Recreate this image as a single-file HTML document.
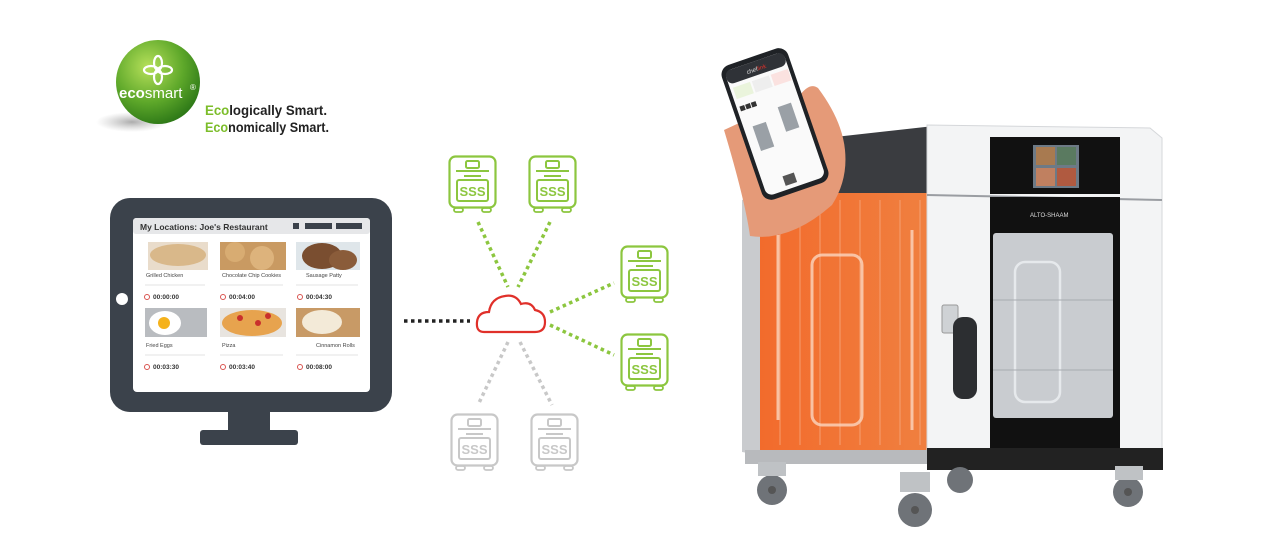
<!DOCTYPE html>
<html><head><meta charset="utf-8"><style>
html,body{margin:0;padding:0;background:#fff}
svg{display:block}
text{font-family:"Liberation Sans",sans-serif}
</style></head><body>
<svg width="1280" height="560" viewBox="0 0 1280 560" xmlns="http://www.w3.org/2000/svg">
<defs>
<radialGradient id="sph" cx="0.38" cy="0.32" r="0.7">
<stop offset="0" stop-color="#b6e05a"/><stop offset="0.6" stop-color="#5ea82a"/><stop offset="1" stop-color="#2f7a18"/>
</radialGradient>
<radialGradient id="shd" cx="0.5" cy="0.5" r="0.5">
<stop offset="0" stop-color="#888" stop-opacity="0.7"/><stop offset="1" stop-color="#aaa" stop-opacity="0"/>
</radialGradient>
<linearGradient id="org" x1="0" y1="0" x2="1" y2="0">
<stop offset="0" stop-color="#f26b2c"/><stop offset="1" stop-color="#f08040"/>
</linearGradient>
<g id="ov">
<rect x="1.5" y="1.5" width="46" height="51" rx="6" fill="#fff" stroke="currentColor" stroke-width="2.2"/>
<rect x="18" y="6" width="13" height="7" rx="1.5" fill="none" stroke="currentColor" stroke-width="2"/>
<line x1="8" y1="16" x2="41" y2="16" stroke="currentColor" stroke-width="2"/>
<line x1="16" y1="21" x2="33" y2="21" stroke="currentColor" stroke-width="2"/>
<rect x="9" y="25" width="31" height="21" rx="2" fill="none" stroke="currentColor" stroke-width="2"/>
<text x="24.5" y="41" text-anchor="middle" font-size="13" font-weight="bold" fill="currentColor">SSS</text>
<rect x="6" y="53" width="9" height="4" rx="2" fill="none" stroke="currentColor" stroke-width="1.8"/>
<rect x="34" y="53" width="9" height="4" rx="2" fill="none" stroke="currentColor" stroke-width="1.8"/>
</g>
</defs>

<!-- logo -->
<ellipse cx="132" cy="122" rx="36" ry="10" fill="url(#shd)"/>
<circle cx="158" cy="82" r="42" fill="url(#sph)"/>
<g fill="none" stroke="#fff" stroke-width="2.2">
<ellipse cx="158" cy="63" rx="4" ry="7"/><ellipse cx="158" cy="77" rx="4" ry="7"/>
<ellipse cx="151" cy="70" rx="7" ry="4"/><ellipse cx="165" cy="70" rx="7" ry="4"/>
</g>
<text x="119" y="98" font-size="15" font-weight="bold" fill="#fff">eco<tspan font-weight="normal">smart</tspan></text>
<text x="190" y="90" font-size="8" fill="#fff">®</text>
<text x="205" y="115" font-size="14" font-weight="bold" fill="#222" textLength="122" lengthAdjust="spacingAndGlyphs"><tspan fill="#7cbd2a">Eco</tspan>logically Smart.</text>
<text x="205" y="132" font-size="14" font-weight="bold" fill="#222" textLength="124" lengthAdjust="spacingAndGlyphs"><tspan fill="#7cbd2a">Eco</tspan>nomically Smart.</text>

<!-- monitor -->
<rect x="110" y="198" width="282" height="214" rx="20" fill="#3b424b"/>
<circle cx="122" cy="299" r="6" fill="#fff"/>
<rect x="133" y="218" width="237" height="174" rx="4" fill="#fff"/>
<rect x="133" y="218" width="237" height="16" rx="3" fill="#e6e7e9"/>
<text x="140" y="230" font-size="8.5" font-weight="bold" fill="#333">My Locations:  Joe's Restaurant</text>
<rect x="293" y="223" width="6" height="6" fill="#3b424b"/>
<rect x="305" y="223" width="27" height="6" fill="#3b424b"/>
<rect x="336" y="223" width="26" height="6" fill="#3b424b"/>
<!-- food images -->
<rect x="148" y="242" width="60" height="28" fill="#e9dccb"/><ellipse cx="178" cy="255" rx="28" ry="11" fill="#d9b88a"/>
<rect x="220" y="242" width="66" height="28" fill="#c99a62"/><circle cx="235" cy="252" r="10" fill="#d8ac72"/><circle cx="262" cy="258" r="12" fill="#ddb37c"/>
<rect x="296" y="242" width="64" height="28" fill="#dfe6ea"/><ellipse cx="322" cy="256" rx="20" ry="13" fill="#7a4e30"/><ellipse cx="343" cy="260" rx="14" ry="10" fill="#8a5c3a"/>
<rect x="145" y="308" width="62" height="29" fill="#b9bcc0"/><ellipse cx="165" cy="323" rx="16" ry="12" fill="#fff"/><circle cx="164" cy="323" r="6" fill="#f5b21c"/>
<rect x="220" y="308" width="66" height="29" fill="#e8e4df"/><ellipse cx="252" cy="323" rx="30" ry="13" fill="#e7a34e"/><circle cx="240" cy="318" r="3" fill="#c9302c"/><circle cx="258" cy="323" r="3" fill="#c9302c"/><circle cx="268" cy="316" r="3" fill="#c9302c"/>
<rect x="296" y="308" width="64" height="29" fill="#c89a66"/><ellipse cx="322" cy="322" rx="20" ry="12" fill="#f3ead8"/>
<g font-size="5.5" fill="#444">
<text x="146" y="277">Grilled Chicken</text><text x="222" y="277">Chocolate Chip Cookies</text><text x="306" y="277">Sausage Patty</text>
<text x="146" y="347">Fried Eggs</text><text x="222" y="347">Pizza</text><text x="316" y="347">Cinnamon Rolls</text>
</g>
<g stroke="#e3e3e3" stroke-width="1"><line x1="145" y1="285" x2="205" y2="285"/><line x1="220" y1="285" x2="283" y2="285"/><line x1="296" y1="285" x2="358" y2="285"/>
<line x1="145" y1="355" x2="205" y2="355"/><line x1="220" y1="355" x2="283" y2="355"/><line x1="296" y1="355" x2="358" y2="355"/></g>
<g font-size="6.5" font-weight="bold" fill="#333">
<text x="153" y="299">00:00:00</text><text x="229" y="299">00:04:00</text><text x="306" y="299">00:04:30</text>
<text x="153" y="369">00:03:30</text><text x="229" y="369">00:03:40</text><text x="306" y="369">00:08:00</text>
</g>
<g fill="none" stroke="#d9534f" stroke-width="1"><circle cx="147" cy="297" r="2.5"/><circle cx="223" cy="297" r="2.5"/><circle cx="300" cy="297" r="2.5"/>
<circle cx="147" cy="367" r="2.5"/><circle cx="223" cy="367" r="2.5"/><circle cx="300" cy="367" r="2.5"/></g>
<rect x="228" y="411" width="42" height="20" fill="#3b424b"/>
<rect x="200" y="430" width="98" height="15" rx="3" fill="#3b424b"/>

<!-- connectors -->
<g stroke-width="3.5" stroke-dasharray="3.5 3.5" fill="none">
<line x1="404" y1="321" x2="470" y2="321" stroke="#222"/>
<g stroke="#8cc63f">
<line x1="478" y1="222" x2="508" y2="287"/><line x1="550" y1="222" x2="518" y2="287"/>
<line x1="550" y1="312" x2="614" y2="283"/><line x1="550" y1="325" x2="614" y2="355"/>
</g>
<g stroke="#c8c8c8"><line x1="508" y1="342" x2="478" y2="405"/><line x1="520" y1="342" x2="552" y2="405"/></g>
</g>
<path d="M484 332 Q476 332 477 322 Q478 312 489 312 Q491 298 505 296 Q516 294 521 304 Q531 301 535 310 Q545 312 545 322 Q545 332 535 332 Z" fill="#fff" stroke="#e0302a" stroke-width="2.2"/>
<use href="#ov" x="448" y="155" color="#8cc63f"/>
<use href="#ov" x="528" y="155" color="#8cc63f"/>
<use href="#ov" x="620" y="245" color="#8cc63f"/>
<use href="#ov" x="620" y="333" color="#8cc63f"/>
<use href="#ov" x="450" y="413" color="#c8c8c8"/>
<use href="#ov" x="530" y="413" color="#c8c8c8"/>

<!-- oven -->
<polygon points="835,137 943,125 943,193 833,193" fill="#3a3c40"/>
<polygon points="742,200 760,193 760,455 742,452" fill="#c9cbce"/>
<rect x="760" y="193" width="172" height="258" fill="url(#org)"/>
<g stroke="#f7b08a" stroke-width="1" opacity="0.7">
<line x1="780" y1="200" x2="780" y2="445"/><line x1="800" y1="200" x2="800" y2="445"/><line x1="820" y1="200" x2="820" y2="445"/><line x1="840" y1="200" x2="840" y2="445"/><line x1="860" y1="200" x2="860" y2="445"/><line x1="880" y1="200" x2="880" y2="445"/><line x1="900" y1="200" x2="900" y2="445"/><line x1="920" y1="200" x2="920" y2="445"/>
</g>
<g fill="none" stroke="#fbd6c0" stroke-width="3" opacity="0.8"><rect x="812" y="255" width="50" height="170" rx="10"/><line x1="912" y1="230" x2="912" y2="430"/><line x1="778" y1="235" x2="778" y2="420"/></g>
<polygon points="927,125 1150,128 1162,138 1162,450 927,450" fill="#f3f4f5" stroke="#d5d7da"/>
<line x1="927" y1="195" x2="1162" y2="200" stroke="#9a9da2" stroke-width="2"/>
<rect x="990" y="137" width="130" height="57" fill="#111"/>
<rect x="1033" y="145" width="46" height="43" fill="#6d7a86"/>
<rect x="1036" y="147" width="19" height="18" fill="#a87a50"/><rect x="1057" y="147" width="19" height="18" fill="#5a7a60"/>
<rect x="1036" y="168" width="19" height="18" fill="#c08060"/><rect x="1057" y="168" width="19" height="18" fill="#b05a40"/>
<rect x="990" y="197" width="130" height="253" fill="#111"/>
<text x="1030" y="217" font-size="6" fill="#ddd">ALTO-SHAAM</text>
<rect x="993" y="233" width="120" height="185" rx="3" fill="#c9ccd0"/>
<g fill="none" stroke="#eef0f2" stroke-width="2.5" opacity="0.8"><rect x="1015" y="262" width="45" height="140" rx="10"/></g>
<g stroke="#a8abb0"><line x1="993" y1="300" x2="1113" y2="300"/><line x1="993" y1="370" x2="1113" y2="370"/></g>
<rect x="942" y="305" width="16" height="28" rx="2" fill="#cfd2d5" stroke="#999"/>
<rect x="953" y="317" width="24" height="82" rx="10" fill="#2c2e31"/>
<rect x="927" y="448" width="236" height="22" fill="#222"/>
<rect x="745" y="450" width="182" height="14" fill="#b8babd"/>
<g fill="#6f7378"><circle cx="772" cy="490" r="15"/><circle cx="915" cy="510" r="17"/><circle cx="960" cy="480" r="13"/><circle cx="1128" cy="492" r="15"/></g>
<g fill="#bfc2c5"><rect x="758" y="462" width="28" height="14"/><rect x="900" y="472" width="30" height="20"/><rect x="1115" y="466" width="28" height="14"/></g>
<g fill="#555"><circle cx="772" cy="490" r="4"/><circle cx="915" cy="510" r="4"/><circle cx="1128" cy="492" r="4"/></g>

<!-- hand & phone -->
<path d="M724 130 Q745 200 750 236 Q790 242 832 205 Q848 180 845 150 Q842 120 818 88 Q810 82 800 95 Z" fill="#e59a78"/>
<g transform="translate(775 124) rotate(-19)">
<rect x="-35" y="-71" width="70" height="142" rx="10" fill="#1f2226"/>
<rect x="-31" y="-66" width="62" height="132" rx="7" fill="#fafafa"/>
<rect x="-31" y="-66" width="62" height="14" rx="6" fill="#2f3237"/>
<text x="-10" y="-56" font-size="6" fill="#ddd">chef<tspan fill="#e0302a">link</tspan></text>
<rect x="-28" y="-48" width="18" height="12" fill="#eaf4dc"/><rect x="-8" y="-48" width="18" height="12" fill="#eee"/><rect x="12" y="-48" width="18" height="12" fill="#fbe2e0"/>
<rect x="-28" y="-28" width="5" height="5" fill="#333"/><rect x="-22" y="-28" width="5" height="5" fill="#333"/><rect x="-16" y="-28" width="5" height="5" fill="#333"/>
<rect x="-22" y="-5" width="14" height="26" fill="#9aa0a6"/><rect x="8" y="-15" width="14" height="26" fill="#9aa0a6"/>
<rect x="-10" y="52" width="12" height="10" fill="#555"/>
</g>
</svg>
</body></html>
